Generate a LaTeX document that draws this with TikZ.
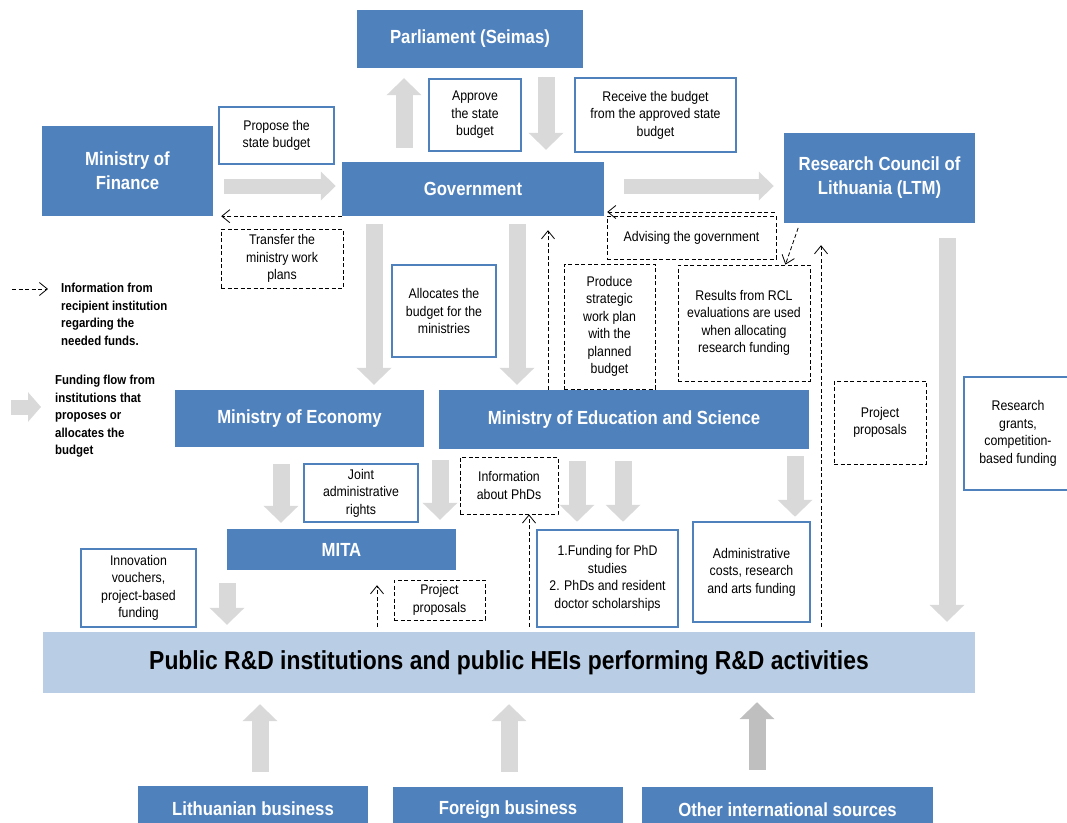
\documentclass[tikz,border=0pt]{standalone}
\usepackage{fontspec}
\setmainfont{Liberation Sans}[FakeStretch=0.88]
\usetikzlibrary{arrows.meta}

\definecolor{boxblue}{HTML}{4F81BD}
\definecolor{flowgray}{HTML}{D9D9D9}
\definecolor{flowdark}{HTML}{BFBFBF}
\definecolor{pubblue}{HTML}{B9CDE5}

\begin{document}
\begin{tikzpicture}[
  x=1pt, y=-1pt,
  inst/.style={
    rectangle, fill=boxblue, text=white, inner sep=0pt,
    font=\fontsize{19}{24}\selectfont\bfseries, align=center
  },
  note/.style={
    rectangle, draw=boxblue, line width=2.5pt, fill=white, inner sep=0pt,
    font=\fontsize{14}{17.5}\selectfont, align=center
  },
  info/.style={
    rectangle, draw=black, line width=0.8pt, dash pattern=on 4pt off 2.5pt,
    inner sep=0pt, font=\fontsize{14}{17.5}\selectfont, align=center
  },
  legend/.style={
    inner sep=0pt, align=left, font=\fontsize{13}{17.5}\selectfont\bfseries
  },
  flow/.style={draw=flowgray, line width=17pt, -{Triangle[length=17pt,width=34pt]}},
  hflow/.style={draw=flowgray, line width=15pt, -{Triangle[length=15pt,width=28pt]}},
  infoarr/.style={draw=black, line width=0.8pt, dash pattern=on 4pt off 2.5pt,
    -{Straight Barb[length=8pt,width=13pt]}},
]

\useasboundingbox (0,0) rectangle (1067,822);
\clip (0,0) rectangle (1067,822);

%% Institutions (blue blocks)
\node[inst, minimum width=226pt, minimum height=58pt] (parl) at (470,39)      {Parliament (Seimas)};
\node[inst, minimum width=171pt, minimum height=90pt] (fin)  at (127.5,171)   {Ministry of\\Finance};
\node[inst, minimum width=262pt, minimum height=54pt] (gov)  at (473,189)     {Government};
\node[inst, minimum width=191pt, minimum height=90pt] (rcl)  at (879.5,178)   {Research Council of\\Lithuania (LTM)};
\node[inst, minimum width=249pt, minimum height=57pt] (moe)  at (299.5,418.5) {Ministry of Economy};
\node[inst, minimum width=370pt, minimum height=59pt] (mes)  at (624,419.5)   {Ministry of Education and Science};
\node[inst, minimum width=229pt, minimum height=41pt] (mita) at (341.5,549.5) {MITA};
\node[inst, minimum width=230pt, minimum height=46pt] (lith) at (253,809)     {Lithuanian business};
\node[inst, minimum width=230pt, minimum height=45pt] (forb) at (508,809.5)   {Foreign business};
\node[inst, minimum width=291pt, minimum height=45pt] (intl) at (787.5,809.5) {Other international sources};

%% Performers
\node[inst, fill=pubblue, text=black, font=\fontsize{26}{30}\selectfont\bfseries,
      minimum width=932pt, minimum height=61pt] (pub) at (509,662.5)
  {Public R\&D institutions and public HEIs performing R\&D activities};

%% Funding labels (blue frames)
\node[note, minimum width=115pt, minimum height=57pt]  (prop)  at (276.5,135.5) {Propose the\\state budget};
\node[note, minimum width=92pt,  minimum height=72pt]  (appr)  at (475,115)     {Approve\\the state\\budget};
\node[note, minimum width=161pt, minimum height=74pt]  (recv)  at (655.5,115)   {Receive the budget\\from the approved state\\budget};
\node[note, minimum width=104pt, minimum height=92pt]  (alloc) at (444,311)     {Allocates the\\budget for the\\ministries};
\node[note, minimum width=114pt, minimum height=58pt]  (joint) at (361,493)     {Joint\\administrative\\rights};
\node[note, minimum width=115pt, minimum height=78pt]  (innov) at (138.5,588)   {Innovation\\vouchers,\\project-based\\funding};
\node[note, minimum width=141pt, minimum height=97pt]  (phd)   at (607.5,578.5) {1.Funding for PhD\\studies\\2. PhDs and resident\\doctor scholarships};
\node[note, minimum width=117pt, minimum height=100pt] (admin) at (751.5,572)   {Administrative\\costs, research\\and arts funding};
\node[note, minimum width=108pt, minimum height=113pt] (grant) at (1018,433.5)  {Research\\grants,\\competition-\\based funding};

%% Information labels (dashed frames)
\node[info, minimum width=122pt, minimum height=59pt]  (trans)   at (282,258.5)   {Transfer the\\ministry work\\plans};
\node[info, minimum width=169pt, minimum height=43pt]  (advis)   at (691.5,237.5) {Advising the government};
\node[info, minimum width=91pt,  minimum height=125pt] (prod)    at (609.5,326.5) {Produce\\strategic\\work plan\\with the\\planned\\budget};
\node[info, minimum width=132pt, minimum height=116pt] (res)     at (744,323)     {Results from RCL\\evaluations are used\\when allocating\\research funding};
\node[info, minimum width=98pt,  minimum height=57pt]  (phdinfo) at (509,485.5)   {Information\\about PhDs};
\node[info, minimum width=91pt,  minimum height=40pt]  (projm)   at (439.5,600)   {Project\\proposals};
\node[info, minimum width=92pt,  minimum height=83pt]  (projr)   at (880,422.5)   {Project\\proposals};

%% Legend
\coordinate (legInfoA) at (12,289);
\coordinate (legInfoB) at (48,289);
\coordinate (legFlowA) at (11,407);
\coordinate (legFlowB) at (41,407);
\draw[infoarr] (legInfoA) -- (legInfoB);
\draw[hflow, -{Triangle[length=13pt,width=29pt]}] (legFlowA) -- (legFlowB);
\node[legend, anchor=north west] (legInfo) at (61,283)
  {Information from\\recipient institution\\regarding the\\needed funds.};
\node[legend, anchor=north west] (legFlow) at (55,375)
  {Funding flow from\\institutions that\\proposes or\\allocates the\\budget};

%% Guides for the arrow lanes
\coordinate (rowBudget) at (0,186);
\coordinate (rowAdvice) at (0,212);
\coordinate (colUp)     at (404,0);
\coordinate (colDown)   at (546,0);
\coordinate (colMoe)    at (374,0);
\coordinate (colMes)    at (517,0);
\coordinate (colMita)   at (281,0);
\coordinate (colJoint)  at (440,0);
\coordinate (colPhdA)   at (577,0);
\coordinate (colPhdB)   at (623,0);
\coordinate (colAdmin)  at (795,0);
\coordinate (colGrant)  at (947,0);
\coordinate (colInnov)  at (227,0);
\coordinate (colLith)   at (260,0);
\coordinate (colForb)   at (509,0);
\coordinate (colIntl)   at (757,0);
\coordinate (colPlan)   at (548,0);
\coordinate (colPhdInf) at (529,0);
\coordinate (colProp)   at (821,0);
\coordinate (colProjM)  at (377,0);

%% Funding flows
\draw[hflow, shorten <=11pt, shorten >=6pt]  (fin.east |- rowBudget) -- (gov.west |- rowBudget);
\draw[hflow, shorten <=20pt, shorten >=10pt] (gov.east |- rowBudget) -- (rcl.west |- rowBudget);
\draw[flow, shorten <=14pt, shorten >=10pt]  (gov.north -| colUp)    -- (parl.south -| colUp);
\draw[flow, shorten <=9pt,  shorten >=12pt]  (parl.south -| colDown) -- (gov.north -| colDown);
\draw[flow, shorten <=8pt,  shorten >=5pt]   (gov.south -| colMoe)   -- (moe.north -| colMoe);
\draw[flow, shorten <=8pt,  shorten >=5pt]   (gov.south -| colMes)   -- (mes.north -| colMes);
\draw[flow, shorten <=17pt, shorten >=6pt]   (moe.south -| colMita)  -- (mita.north -| colMita);
\draw[flow, shorten <=11pt, shorten >=9pt]   (mes.south -| colJoint) -- (mita.north -| colJoint);
\draw[flow, shorten <=12pt, shorten >=7pt]   (mes.south -| colPhdA)  -- (phd.north -| colPhdA);
\draw[flow, shorten <=12pt, shorten >=7pt]   (mes.south -| colPhdB)  -- (phd.north -| colPhdB);
\draw[flow, shorten <=7pt,  shorten >=4pt]   (mes.south -| colAdmin) -- (admin.north -| colAdmin);
\draw[flow, shorten <=15pt, shorten >=10pt]  (rcl.south -| colGrant) -- (pub.north -| colGrant);
\draw[flow, shorten <=13pt, shorten >=7pt]   (mita.south -| colInnov) -- (pub.north -| colInnov);
\draw[flow, shorten <=14pt, shorten >=11pt]  (lith.north -| colLith) -- (pub.south -| colLith);
\draw[flow, shorten <=15pt, shorten >=11pt]  (forb.north -| colForb) -- (pub.south -| colForb);
\draw[flow, draw=flowdark, shorten <=17pt, shorten >=9pt] (intl.north -| colIntl) -- (pub.south -| colIntl);

%% Information flows
\draw[infoarr, shorten >=8pt]                (gov.south west) -- (fin.south east);
\draw[infoarr, shorten <=9pt, shorten >=3pt] (rcl.west |- rowAdvice) -- (gov.east |- rowAdvice);
\draw[infoarr, shorten <=5pt]                ([xshift=16pt]rcl.south west) -- ([xshift=-25pt]res.north east);
\draw[infoarr, shorten >=14pt]               (mes.north -| colPlan) -- (gov.south -| colPlan);
\draw[infoarr, shorten <=5pt]                (pub.north -| colPhdInf) -- (phdinfo.south -| colPhdInf);
\draw[infoarr, shorten <=5pt, shorten >=22pt] (pub.north -| colProp) -- (rcl.south -| colProp);
\draw[infoarr, shorten <=5pt, shorten >=15pt] (pub.north -| colProjM) -- (mita.south -| colProjM);

\end{tikzpicture}
\end{document}
